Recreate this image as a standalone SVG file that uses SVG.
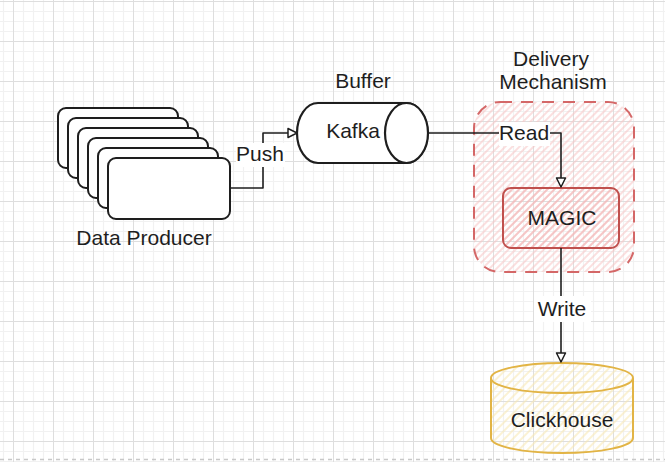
<svg xmlns="http://www.w3.org/2000/svg" width="665" height="462" viewBox="0 0 665 462">
  <defs>
    <pattern id="grid" x="13" y="1" width="40" height="40" patternUnits="userSpaceOnUse">
      <path d="M10.5 0V40M20.5 0V40M30.5 0V40M0 10.5H40M0 20.5H40M0 30.5H40" stroke="#f1f1f1" stroke-width="1.2" fill="none"/>
      <path d="M0.5 0V40M0 0.5H40" stroke="#dedede" stroke-width="1" fill="none"/>
    </pattern>
    <pattern id="hatchRed" width="5" height="5" patternUnits="userSpaceOnUse" patternTransform="rotate(45)">
      <line x1="1" y1="0" x2="1" y2="5" stroke="#f7c4c4" stroke-width="1.1"/>
    </pattern>
    <pattern id="hatchRed2" width="5" height="5" patternUnits="userSpaceOnUse" patternTransform="rotate(45)">
      <line x1="1" y1="0" x2="1" y2="5" stroke="#f3b3b3" stroke-width="1.1"/>
    </pattern>
    <pattern id="hatchYellow" width="6" height="6" patternUnits="userSpaceOnUse" patternTransform="rotate(45)">
      <line x1="1" y1="0" x2="1" y2="6" stroke="#f8e7b0" stroke-width="1.1"/>
    </pattern>
    <marker id="arrow" markerUnits="userSpaceOnUse" markerWidth="14" markerHeight="14" viewBox="-12 -7 14 14" refX="0" refY="0" orient="auto">
      <path d="M-9,-4.5 L0,0 L-9,4.5 Z" fill="#ffffff" stroke="#1e1e1e" stroke-width="1.5" stroke-linejoin="round"/>
    </marker>
  </defs>
  <style>
    .txt { font-family: "Liberation Sans", "DejaVu Sans", sans-serif; font-size: 21px; fill: #1e1e1e; text-anchor: middle; }
    .box { fill: #ffffff; stroke: #1e1e1e; stroke-width: 2; }
    .conn { fill: none; stroke: #1e1e1e; stroke-width: 1.6; stroke-linejoin: round; }
    .lblbg { fill: #ffffff; }
  </style>

  <rect x="0" y="0" width="665" height="462" fill="#ffffff"/>
  <rect x="0" y="0" width="665" height="462" fill="url(#grid)"/>
  <line x1="0" y1="459.5" x2="665" y2="459.5" stroke="#c8c8c8" stroke-width="1.5" stroke-dasharray="4 4"/>

  <g id="delivery-mechanism">
    <rect x="474" y="102" width="160" height="170" rx="26" fill="url(#hatchRed)"/>
    <rect x="474" y="102" width="160" height="170" rx="26" fill="none" stroke="#d46767" stroke-width="2" stroke-dasharray="12 9"/>
    <text class="txt" x="551" y="66">Delivery</text>
    <text class="txt" x="553" y="89">Mechanism</text>
  </g>

  <g id="data-producer">
    <rect class="box" x="58" y="108" width="120" height="60" rx="8"/>
    <rect class="box" x="68" y="118" width="120" height="60" rx="8"/>
    <rect class="box" x="78" y="128" width="120" height="60" rx="8"/>
    <rect class="box" x="88" y="138" width="120" height="60" rx="8"/>
    <rect class="box" x="98" y="148" width="120" height="60" rx="8"/>
    <rect class="box" x="108" y="158" width="122" height="61" rx="8"/>
    <text class="txt" x="144" y="245">Data Producer</text>
  </g>

  <g id="kafka">
    <path d="M318,103 H406 A21.5 30 0 0 1 406,163 H318 A21 30 0 0 1 318,103 Z" fill="#ffffff" stroke="#1e1e1e" stroke-width="2.2"/>
    <ellipse cx="406.5" cy="133" rx="21.5" ry="30" fill="#ffffff" stroke="#1e1e1e" stroke-width="2.2"/>
    <text class="txt" x="353" y="138">Kafka</text>
    <text class="txt" x="363" y="88">Buffer</text>
  </g>

  <g id="magic">
    <rect x="503" y="188" width="116" height="60" rx="8" fill="url(#hatchRed2)" stroke="#c0504d" stroke-width="2"/>
    <text class="txt" x="562" y="225">MAGIC</text>
  </g>

  <g id="clickhouse">
    <path d="M491,378 A71 15 0 0 1 633,378 V438 A71 15 0 0 1 491,438 Z" fill="url(#hatchYellow)" stroke="#e2b445" stroke-width="2"/>
    <path d="M491,378 A71 15 0 0 0 633,378" fill="none" stroke="#e2b445" stroke-width="2"/>
    <text class="txt" x="562" y="427">Clickhouse</text>
  </g>

  <g id="connectors">
    <path class="conn" d="M230,188 H263 V133 H297" marker-end="url(#arrow)"/>
    <rect class="lblbg" x="236" y="143" width="49" height="24"/>
    <text class="txt" x="260" y="161">Push</text>

    <path class="conn" d="M428,133 H561 V187" marker-end="url(#arrow)"/>
    <rect class="lblbg" x="499" y="122" width="51" height="24"/>
    <text class="txt" x="524" y="140">Read</text>

    <path class="conn" d="M561,248 V362" marker-end="url(#arrow)"/>
    <rect class="lblbg" x="534" y="296" width="57" height="26"/>
    <text class="txt" x="562" y="316">Write</text>
  </g>
</svg>
